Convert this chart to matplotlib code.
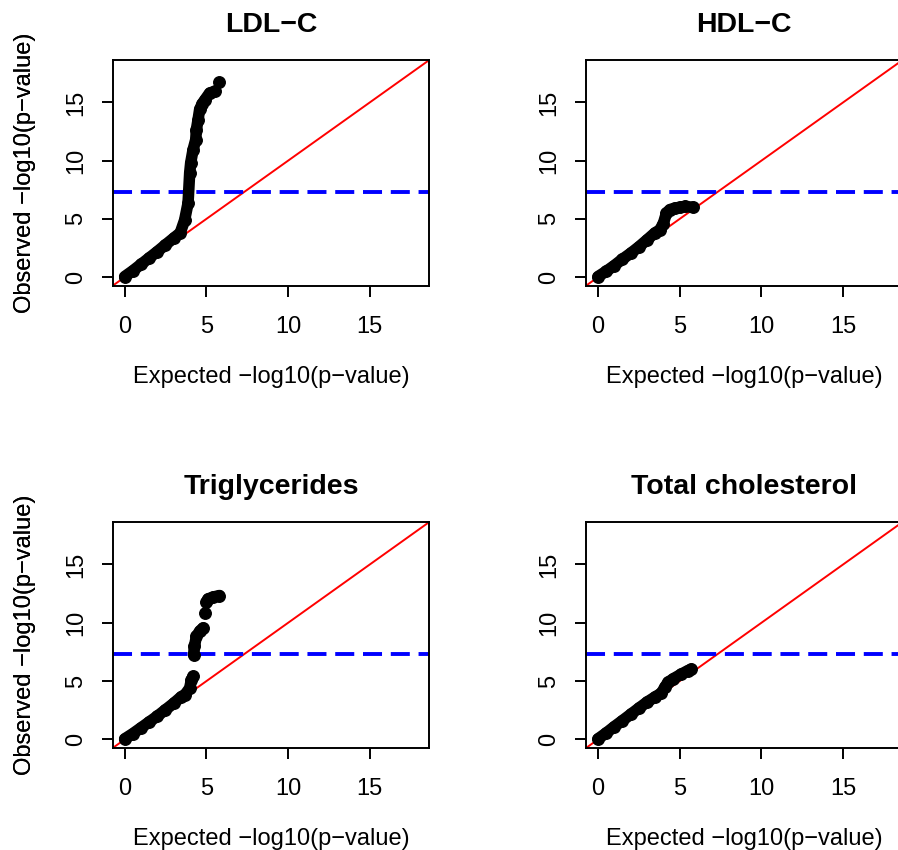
import numpy as np
import matplotlib
matplotlib.use("Agg")
import matplotlib.pyplot as plt

plt.rcParams['font.family'] = ['Liberation Sans', 'DejaVu Sans']
plt.rcParams['lines.scale_dashes'] = False

nan = np.nan

TITLES = ["LDL\u2212C", "HDL\u2212C", "Triglycerides", "Total cholesterol"]
XLABEL = "Expected \u2212log10(p\u2212value)"
YLABEL = "Observed \u2212log10(p\u2212value)"
TICKS = [0, 5, 10, 15]
GWAS_LINE = -np.log10(5e-8)

# (expected, observed); nan marks a gap between point runs
ldl_exp = [0, 0.5, 1.0, 1.5, 2.0, 2.5, 3.0, 3.4, 3.67, 3.88, 3.98, 4.04, 4.18, 4.35,
           4.39, 4.49, 4.59, 4.75, 4.9, 5.2, 5.5, nan, 5.77]
ldl_obs = [0.05, 0.55, 1.1, 1.65, 2.2, 2.78, 3.35, 3.8, 4.9, 6.36, 8.96, 9.8, 10.9, 11.8,
           12.66, 13.5, 14.4, 14.9, 15.2, 15.8, 15.95, nan, 16.78]

hdl_exp = [0, 0.5, 1.0, 1.5, 2.0, 2.5, 3.0, 3.47, 3.78, 4.0, 4.19, 4.4, 4.7, 5.0, 5.3, 5.82]
hdl_obs = [0.05, 0.5, 1.0, 1.55, 2.05, 2.6, 3.2, 3.78, 4.06, 4.6, 5.5, 5.8, 5.93, 6.0, 6.07, 6.0]

tg_exp = [0, 0.5, 1.0, 1.5, 2.0, 2.5, 3.0, 3.47, 3.7, 3.98, 4.08, 4.18, nan,
          4.22, 4.27, 4.39, 4.6, 4.8, nan, 4.94, nan, 5.0, 5.1, 5.4, 5.8]
tg_obs = [0.05, 0.5, 1.0, 1.5, 2.0, 2.55, 3.1, 3.67, 3.85, 4.4, 5.1, 5.4, nan,
          7.27, 7.98, 8.84, 9.3, 9.56, nan, 10.85, nan, 11.75, 12.05, 12.2, 12.34]

tc_exp = [0, 0.5, 1.0, 1.5, 2.0, 2.5, 3.0, 3.5, 3.88, 4.1, 4.29, 4.6, 5.1, 5.5, 5.72]
tc_obs = [0.05, 0.55, 1.1, 1.62, 2.15, 2.68, 3.2, 3.65, 3.97, 4.5, 4.9, 5.2, 5.6, 5.9, 6.03]

DATA = [(ldl_exp, ldl_obs), (hdl_exp, hdl_obs), (tg_exp, tg_obs), (tc_exp, tc_obs)]

W, H = 898, 850
fig = plt.figure(figsize=(W / 100, H / 100), dpi=100)

# axes boxes in pixels: left, top, width, height
boxes = [(112.7, 60, 316.6, 225.7), (586.0, 60, 316.6, 225.7),
         (112.7, 522, 316.6, 226.0), (586.0, 522, 316.6, 226.0)]

LIM = (-0.73, 18.64)

for (l, t, w, h), title, (xe, yo) in zip(boxes, TITLES, DATA):
    ax = fig.add_axes([l / W, (H - t - h) / H, w / W, h / H])
    ax.set_xlim(LIM)
    ax.set_ylim(LIM)

    ax.plot(xe, yo, '-o', color='black', lw=8.3, ms=8.3, mec='black',
            solid_capstyle='round', solid_joinstyle='round', zorder=3)
    ax.axline((0, 0), slope=1, color='#ff0000', lw=1.4, zorder=2)
    ax.axhline(GWAS_LINE, color='#0000ff', lw=2.8, dashes=(13.7, 6.3), zorder=2)

    ax.set_xticks(TICKS)
    ax.set_yticks(TICKS)
    ax.tick_params(axis='both', length=7.9, width=1.4, labelsize=17)
    ax.tick_params(axis='x', pad=21.6)
    ax.tick_params(axis='y', pad=18.5)
    for lab in ax.get_xticklabels():
        lab.set_va('center')
    for lab in ax.get_yticklabels():
        lab.set_rotation(90)
        lab.set_ha('center')
        lab.set_va('center')
    for s in ax.spines.values():
        s.set_linewidth(1.4)

    ax.text(0.5, 1 + 35 / h, title, transform=ax.transAxes, ha='center', va='center',
            fontsize=20.5, fontweight='bold')
    ax.text(0.5, -91 / h, XLABEL, transform=ax.transAxes,
            ha='center', va='center', fontsize=17)
    ax.text(-(l - 25) / w, 0.5, YLABEL, transform=ax.transAxes, rotation=90,
            ha='center', va='center', fontsize=17)

fig.savefig("out.png", dpi=100)
